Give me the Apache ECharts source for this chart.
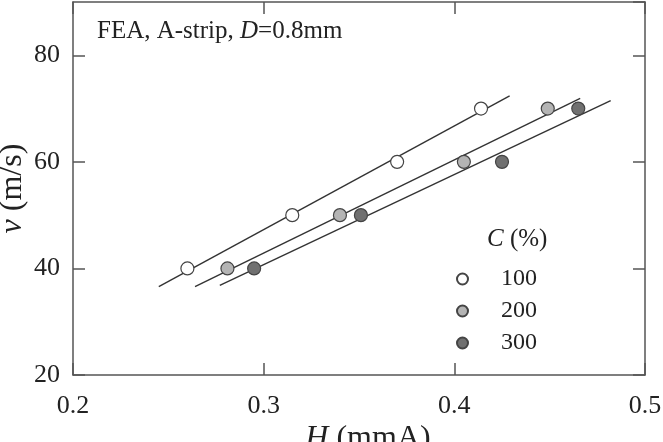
<!DOCTYPE html>
<html>
<head>
<meta charset="utf-8">
<script src="https://cdn.jsdelivr.net/npm/echarts@6/dist/echarts.min.js"></script>
<style>
  html, body { margin: 0; padding: 0; background: #fff; }
  #chart { width: 663px; height: 442px; }
</style>
</head>
<body>
<div id="chart"></div>
<script>
// H (mmA) vs v (m/s), one set per C (%)
const hC100 = [0.260, 0.315, 0.370, 0.414];
const vC100 = [40, 50, 60, 70];
const hC200 = [0.281, 0.340, 0.405, 0.449];
const vC200 = [40, 50, 60, 70];
const hC300 = [0.295, 0.351, 0.425, 0.465];
const vC300 = [40, 50, 60, 70];

// fitted lines, end points
const fitC100 = [[0.245, 36.6], [0.429, 72.4]];
const fitC200 = [[0.264, 36.6], [0.466, 71.9]];
const fitC300 = [[0.277, 36.8], [0.482, 71.5]];

const legendNames = ['100', '200', '300'];

const FONT = 'Liberation Serif';
const INK = '#333';
const FRAME = '#555';

const pairs = (xs, ys) => xs.map((x, i) => [x, ys[i]]);

const fitLine = (data) => ({
  type: 'line',
  data: data,
  symbol: 'none',
  silent: true,
  lineStyle: { color: INK, width: 1.4 },
  z: 1,
});

const points = (name, data, fill) => ({
  name: name,
  type: 'scatter',
  data: data,
  symbol: 'circle',
  symbolSize: 13,
  itemStyle: { color: fill, borderColor: '#444', borderWidth: 1.2, opacity: 1 },
  z: 3,
});

const chart = echarts.init(document.getElementById('chart'), null, { renderer: 'canvas' });

const tickStyle = { inside: true, length: 12, lineStyle: { color: FRAME, width: 1.5 } };
const plain = { fontFamily: FONT, fontWeight: 'normal', color: '#222' };

chart.setOption({
  backgroundColor: '#fff',
  animation: false,
  textStyle: { fontFamily: FONT },
  grid: { left: 73, right: 18, top: 2, bottom: 67, outerBoundsMode: 'none', containLabel: false },
  title: [
    {
      text: '{n|FEA, A-strip, }{i|D}{n|=0.8mm}',
      left: 92,
      top: 14,
      textStyle: {
        ...plain, fontSize: 25,
        rich: {
          n: { ...plain, fontSize: 25 },
          i: { ...plain, fontSize: 25, fontStyle: 'italic' },
        },
      },
    },
    {
      text: '{i|C} (%)',
      left: 482,
      top: 222,
      textStyle: {
        ...plain, fontSize: 25,
        rich: { i: { ...plain, fontSize: 25, fontStyle: 'italic' } },
      },
    },
  ],
  legend: {
    data: legendNames,
    orient: 'vertical',
    left: 451,
    top: 262,
    itemWidth: 11,
    itemHeight: 11,
    itemGap: 8,
    textStyle: { ...plain, fontSize: 24, padding: [0, 0, 0, 28] },
  },
  xAxis: [
    {
      type: 'value',
      min: 0.2,
      max: 0.5,
      interval: 0.1,
      name: '{i|H} (mmA)',
      nameLocation: 'middle',
      nameGap: 48,
      nameMoveOverlap: false,
      nameTextStyle: {
        ...plain, fontSize: 32, padding: [0, 0, 0, 18],
        rich: { i: { ...plain, fontSize: 32, fontStyle: 'italic' } },
      },
      axisLine: { show: true, lineStyle: { color: FRAME, width: 1.5 } },
      axisTick: tickStyle,
      axisLabel: { ...plain, fontSize: 26, margin: 18, formatter: v => v.toFixed(1) },
      splitLine: { show: false },
    },
    {
      type: 'value',
      position: 'top',
      min: 0.2,
      max: 0.5,
      interval: 0.1,
      axisLine: { show: true, lineStyle: { color: FRAME, width: 1.5 } },
      axisTick: tickStyle,
      axisLabel: { show: false },
      splitLine: { show: false },
    },
  ],
  yAxis: [
    {
      type: 'value',
      min: 20,
      max: 90,
      interval: 20,
      name: '{i|v} (m/s)',
      nameLocation: 'middle',
      nameGap: 44,
      nameMoveOverlap: false,
      nameTextStyle: {
        ...plain, fontSize: 32,
        rich: { i: { ...plain, fontSize: 32, fontStyle: 'italic' } },
      },
      axisLine: { show: true, lineStyle: { color: FRAME, width: 1.5 } },
      axisTick: tickStyle,
      axisLabel: { ...plain, fontSize: 26, margin: 13, showMaxLabel: false },
      splitLine: { show: false },
    },
    {
      type: 'value',
      position: 'right',
      min: 20,
      max: 90,
      interval: 20,
      axisLine: { show: true, lineStyle: { color: FRAME, width: 1.5 } },
      axisTick: tickStyle,
      axisLabel: { show: false },
      splitLine: { show: false },
    },
  ],
  series: [
    fitLine(fitC100),
    fitLine(fitC200),
    fitLine(fitC300),
    points('100', pairs(hC100, vC100), '#ffffff'),
    points('200', pairs(hC200, vC200), '#b4b4b4'),
    points('300', pairs(hC300, vC300), '#707070'),
  ],
});
</script>
</body>
</html>
